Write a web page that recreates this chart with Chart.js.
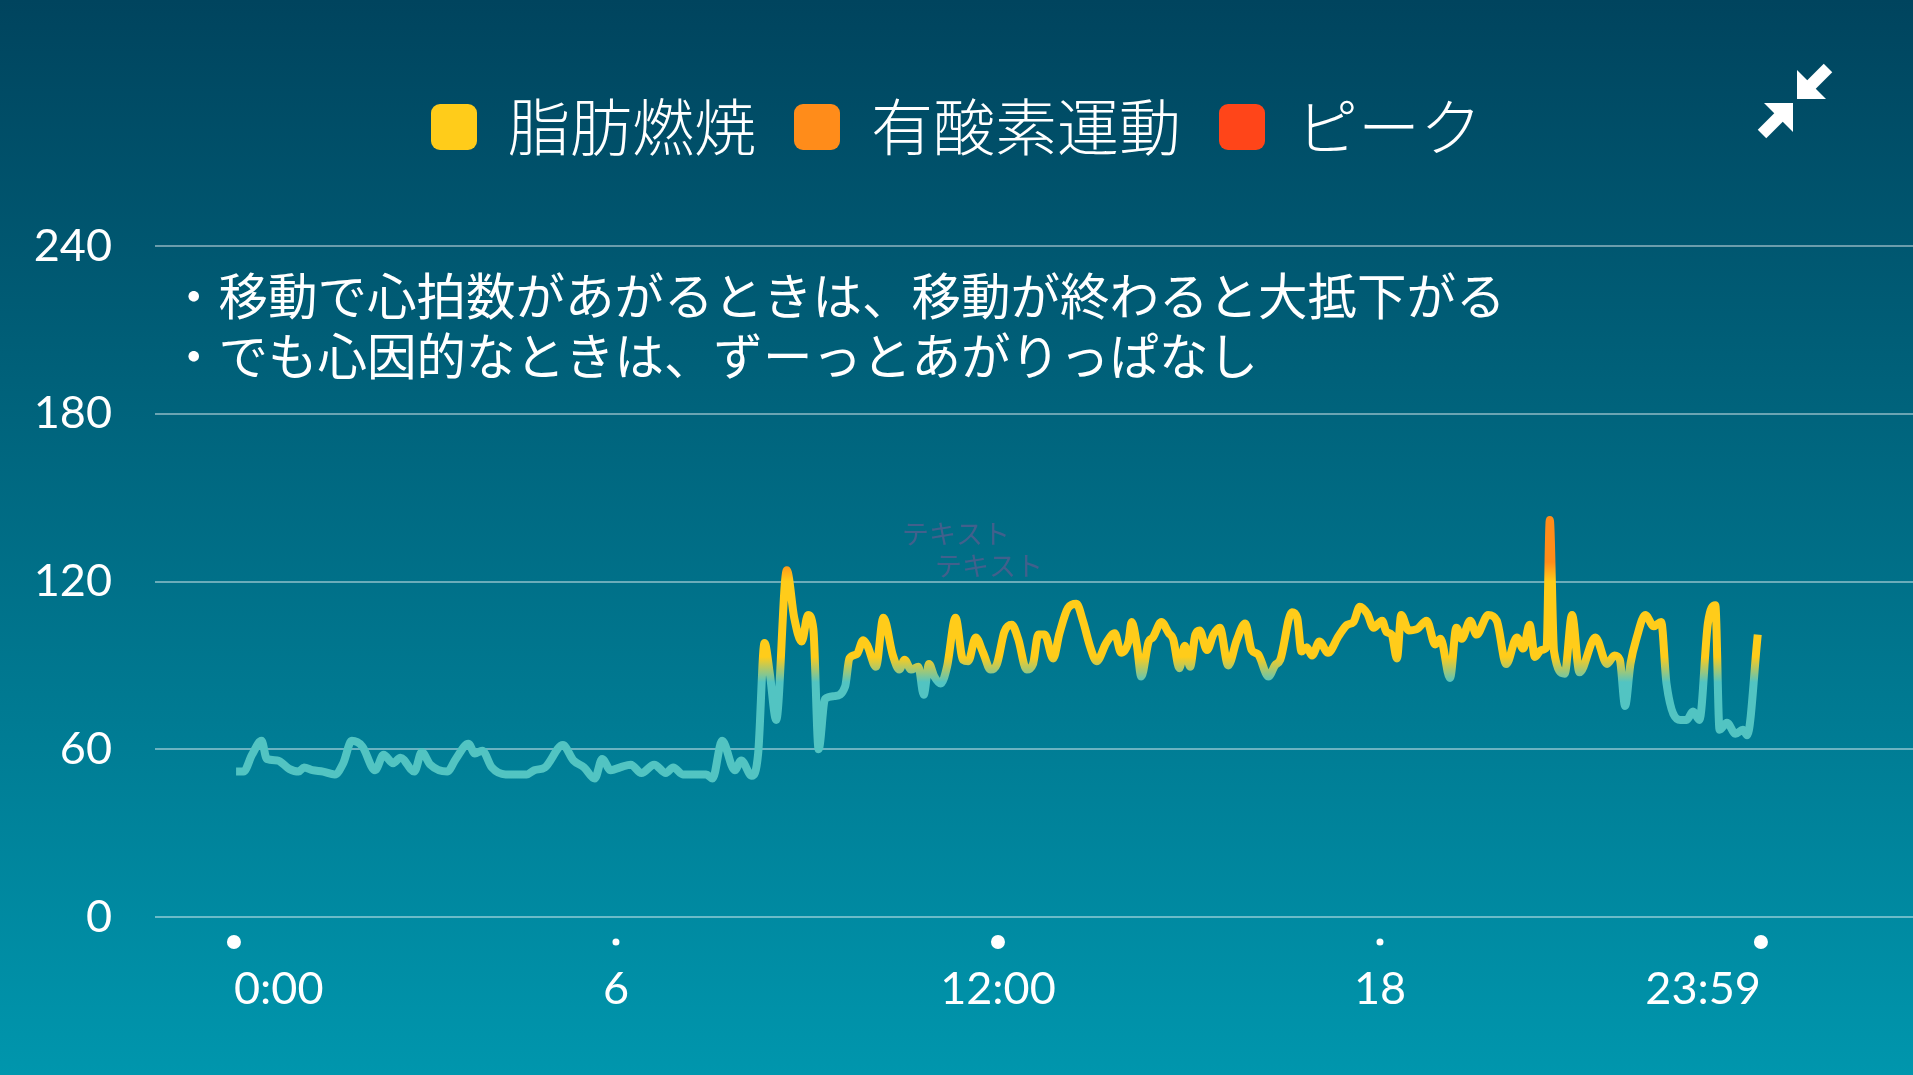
<!DOCTYPE html>
<html><head><meta charset="utf-8">
<script src="https://cdn.jsdelivr.net/npm/chart.js@4/dist/chart.umd.min.js"></script>
<style>
html,body{margin:0;padding:0;width:1913px;height:1075px;overflow:hidden;
background:linear-gradient(to bottom,#00445e 0%,#0096ad 100%);}
#wrap{position:relative;width:1913px;height:1075px;}
</style></head><body><div id="wrap"><canvas id="c" width="1913" height="1075"></canvas></div>
<script>
// ---- data ----
const zoneNames = ['脂肪燃焼','有酸素運動','ピーク'];
const zoneColors = ['#ffcc1a','#ff8c1a','#ff4519'];
const restColor = '#52c4c2';
const yTicks = [0,60,120,180,240];
const xTickValues = [0,360,720,1080,1439];
const xTickLabels = ['0:00','6','12:00','18','23:59'];
const xTickDotRadius = [7,3.5,7,3.5,7];
const timeMinutes = [2,9,17,26,31,41,52,61,66,74,84,95,103,111,121,133,141,150,157,170,177,185,201,209,221,227,234,243,256,276,283,293,310,320,330,340,347,355,364,374,384,396,407,414,423,445,451,460,
472,478,488,494,500,505,511,521,528,535,541,546,551,557,566,576,580,587,593,597,605,612,621,627,632,638,645,650,655,660,666,672,680,687,692,699,706,713,719,726,733,739,747,753,758,764,772,778,786,794,800,807,813,822,830,836,843,846,851,855,862,866,874,881,885,891,896,901,906,910,917,923,929,
937,945,953,959,965,975,981,986,997,1002,1006,1011,1016,1023,1031,1041,1049,1055,1061,1068,1074,1082,1086,1091,1096,1100,1107,1115,1124,1132,1137,1146,1152,1157,1165,1171,1182,1190,1199,1209,1215,1221,1226,1232,1237,1240,1244,1254,1261,1268,1283,1294,1301,1306,1311,1316,1322,1330,1338,1345,1350,1363,1369,1375,1381,1389,1396,1400,1407,1415,1422,1426,1436];
const heartRate = [52,52,58,63,56.5,56,53,52,53.5,52.5,52,51,55,63,61,52.5,58,55,57,52,59,54.5,52,56.5,62,58.5,59.5,53.5,51,51,52.5,53.5,61.5,56,53.5,49.5,56.5,52.5,53.5,54.5,51.5,54.5,51.5,53.5,51,51,49.5,63,
52.5,56,50.5,58.5,98,87,70.5,124,107,98.5,108,103,60,78,79,82.5,92.5,94,99,97,89.5,107,93.5,88.5,92,88.5,89.5,79.5,90.5,86,83.5,89.5,107,92,91.5,100,94.5,88.5,90.5,102,104.5,99.5,88.5,90.5,101,101,92.5,101.5,110.5,112,106,96.5,91.5,98,101.5,94.5,98.5,105.5,97,86,98.5,100,105.5,101.5,99.5,89,97,89.5,101,102.5,95.5,101,103.5,
90,99,105,95.5,94,86,90,92,109,107,95,96.5,93.5,98.5,94.5,100.5,104.5,105.5,111,108.5,103.5,106,102,101,92.5,108,102.5,103,106,97.5,99.5,85.5,103.5,99.5,106,101,108,106,90.5,100,96,104.5,93,95.5,96.5,142,95,87,108,87.5,100,90.5,93.5,92,75.5,90.5,100,108,104,105.5,83.5,70.5,70.5,73.5,70.5,105,111.5,67,69.5,65.5,67,65,101];
const noteLines = ['・移動で心拍数があがるときは、移動が終わると大抵下がる','・でも心因的なときは、ずーっとあがりっぱなし'];
const faintLabels = ['テキスト','テキスト'];

const FONT_NUM = 'Lato, "Noto Sans", sans-serif';
const FONT_JP = '"Noto Sans CJK JP", "Noto Sans", sans-serif';

function hrGradient(context){
  const chart = context.chart;
  const {chartArea, scales} = chart;
  if (!chartArea) return restColor;
  const y = scales.y;
  const bottom = y.getPixelForValue(0), top = y.getPixelForValue(240);
  const g = chart.ctx.createLinearGradient(0, bottom, 0, top);
  const s = v => v/240;
  g.addColorStop(0, restColor);
  g.addColorStop(s(84), restColor);
  g.addColorStop(s(93), zoneColors[0]);
  g.addColorStop(s(120), zoneColors[0]);
  g.addColorStop(s(127), zoneColors[1]);
  g.addColorStop(s(150), zoneColors[1]);
  g.addColorStop(s(165), zoneColors[2]);
  g.addColorStop(1, zoneColors[2]);
  return g;
}

const decor = {
  id: 'decor',
  beforeDatasetsDraw(chart){
    const ctx = chart.ctx;
    ctx.save();
    ctx.fillStyle = '#ffffff';
    ctx.font = '400 49.5px ' + FONT_JP;
    ctx.textBaseline = 'middle';
    ctx.textAlign = 'left';
    ctx.fillText(noteLines[0], 169, 296);
    ctx.fillText(noteLines[1], 169, 356);
    ctx.fillStyle = '#42608c';
    ctx.font = '400 27px ' + FONT_JP;
    ctx.fillText(faintLabels[0], 902, 534);
    ctx.fillText(faintLabels[1], 935, 566);
    ctx.restore();
  },
  afterDraw(chart){
    const ctx = chart.ctx;
    const {chartArea, scales} = chart;
    ctx.save();
    ctx.fillStyle = '#ffffff';
    // tick dots under the x axis
    xTickValues.forEach((v,i)=>{
      ctx.beginPath();
      ctx.arc(scales.x.getPixelForValue(v), chartArea.bottom + 25, xTickDotRadius[i], 0, Math.PI*2);
      ctx.fill();
    });
    ctx.strokeStyle = '#ffffff';
    ctx.lineWidth = 12;
    ctx.lineCap = 'butt';
    // upper-right arrow pointing to lower-left
    ctx.beginPath(); ctx.moveTo(1797,70); ctx.lineTo(1797,99); ctx.lineTo(1826,99); ctx.closePath(); ctx.fill();
    ctx.beginPath(); ctx.moveTo(1806,90); ctx.lineTo(1828,68); ctx.stroke();
    // lower-left arrow pointing to upper-right
    ctx.beginPath(); ctx.moveTo(1764,103); ctx.lineTo(1793,103); ctx.lineTo(1793,132); ctx.closePath(); ctx.fill();
    ctx.beginPath(); ctx.moveTo(1784,112); ctx.lineTo(1762,134); ctx.stroke();
    ctx.restore();
  }
};

new Chart(document.getElementById('c'), {
  type: 'line',
  data: {
    datasets: [
      {
        label: '心拍数',
        data: timeMinutes.map((t,i)=>({x:t, y:heartRate[i]})),
        borderColor: hrGradient,
        borderWidth: 8,
        pointRadius: 0,
        cubicInterpolationMode: 'monotone',
        borderJoinStyle: 'round',
        borderCapStyle: 'butt',
        fill: false
      }
    ]
  },
  options: {
    responsive: false,
    animation: false,
    layout: { padding: { top: 58, left: 0, right: 0, bottom: 14 } },
    plugins: {
      tooltip: { enabled: false },
      title: { display: true, text: '', weight: 500, padding: { top: 0, bottom: 66 }, font: { size: 10 } },
      legend: {
        display: true, position: 'top', align: 'center',
        onClick: () => {},
        labels: {
          color: '#ffffff',
          font: { family: FONT_JP, size: 62, weight: 300 },
          boxWidth: 46, boxHeight: 46, padding: 38,
          useBorderRadius: true, borderRadius: 9,
          generateLabels: () => zoneNames.map((n,i)=>({
            text: n, fillStyle: zoneColors[i], strokeStyle: zoneColors[i],
            lineWidth: 0, hidden: false, fontColor: '#ffffff', borderRadius: 9
          }))
        }
      }
    },
    scales: {
      x: {
        type: 'linear', min: -74.4, max: 1582.3,
        grid: { display: false, drawTicks: false },
        border: { display: false },
        afterBuildTicks: s => { s.ticks = xTickValues.map(v=>({value:v})); },
        ticks: {
          autoSkip: false, maxRotation: 0, align: 'inner', padding: 45,
          color: '#ffffff', font: { family: FONT_NUM, size: 45 },
          callback: (v,i) => xTickLabels[i]
        }
      },
      y: {
        min: 0, max: 240,
        afterBuildTicks: s => { s.ticks = yTicks.map(v=>({value:v})); },
        afterFit: s => { s.width = 155; },
        grid: { color: 'rgba(255,255,255,0.42)', lineWidth: 2, drawTicks: false },
        border: { display: false },
        ticks: { padding: 43, color: '#ffffff', font: { family: FONT_NUM, size: 45 } }
      }
    }
  },
  plugins: [decor]
});
</script></body></html>
